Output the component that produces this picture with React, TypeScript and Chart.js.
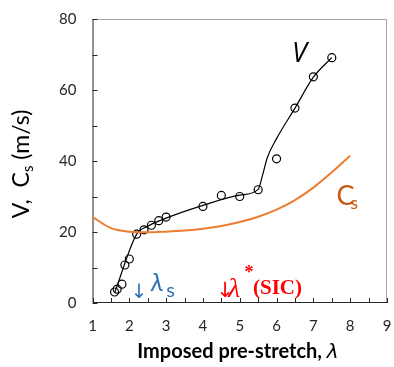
import React, { useEffect, useRef } from 'react';
import { Chart, registerables } from 'chart.js';
Chart.register(...registerables);

// Measured wave speed V (circles)
const vStretch = [1.6, 1.67, 1.8, 1.88, 2.0, 2.2, 2.4, 2.6, 2.8, 3.0, 4.0, 4.5, 5.0, 5.5, 6.0, 6.5, 7.0, 7.5];
const vSpeed = [3.1, 3.9, 5.3, 10.7, 12.4, 19.4, 20.6, 21.9, 23.2, 24.2, 27.2, 30.3, 30.0, 31.9, 40.6, 54.9, 63.7, 69.1];
// Guide curve through V
const fitStretch = [1.6, 2.2, 2.5, 3.0, 4.0, 5.0, 5.5, 5.62, 5.75, 6.0, 6.5, 7.0, 7.5];
const fitSpeed = [2.8, 19.4, 21.6, 23.9, 27.5, 30.4, 32.0, 36.0, 41.0, 46.3, 54.9, 63.6, 69.1];
// Shear wave speed Cs
const csStretch = [1, 1.5, 2, 2.5, 3, 3.5, 4, 4.5, 5, 5.5, 6, 6.5, 7, 7.5, 8];
const csSpeed = [24.2, 21.1, 20.1, 19.9, 20.1, 20.4, 20.9, 21.7, 22.8, 24.3, 26.3, 29.0, 32.5, 36.8, 41.5];

const xMin = 1, xMax = 9, xStep = 0.5;
const yMin = 0, yMax = 80, yStep = 10;

const FONT = 'Lato, "Open Sans", sans-serif';

const toPts = (xs: number[], ys: number[]) => xs.map((x, i) => ({ x, y: ys[i] }));

const noOverflow = (s: any) => {
  s.paddingLeft = 0;
  s.paddingRight = 0;
  s.paddingTop = 0;
  s.paddingBottom = 0;
};

const decor = {
  id: 'decor',
  beforeDatasetsDraw(chart: any) {
    const { ctx, chartArea: a, scales } = chart;
    ctx.save();
    ctx.lineWidth = 1;
    ctx.strokeStyle = '#a6a6a6';
    ctx.beginPath();
    ctx.moveTo(a.left, a.top + 0.5);
    ctx.lineTo(a.right - 0.5, a.top + 0.5);
    ctx.lineTo(a.right - 0.5, a.bottom);
    ctx.stroke();
    ctx.strokeStyle = '#262626';
    ctx.beginPath();
    ctx.moveTo(a.left + 0.5, a.top);
    ctx.lineTo(a.left + 0.5, a.bottom - 0.5);
    ctx.lineTo(a.right, a.bottom - 0.5);
    ctx.stroke();
    ctx.beginPath();
    scales.x.ticks.forEach((t: any) => {
      const p = Math.round(scales.x.getPixelForValue(t.value)) + 0.5;
      ctx.moveTo(p, a.bottom);
      ctx.lineTo(p, a.bottom - 5);
    });
    scales.y.ticks.forEach((t: any) => {
      const p = Math.round(scales.y.getPixelForValue(t.value)) + 0.5;
      ctx.moveTo(a.left, p);
      ctx.lineTo(a.left + 5, p);
    });
    ctx.stroke();
    ctx.restore();
  },
  afterDraw(chart: any) {
    const { ctx, scales } = chart;
    const px = (v: number) => scales.x.getPixelForValue(v);
    const py = (v: number) => scales.y.getPixelForValue(v);
    ctx.save();
    ctx.textAlign = 'left';
    ctx.textBaseline = 'alphabetic';
    const txt = (t: string, font: string, color: string, x: number, y: number) => {
      ctx.font = font;
      ctx.fillStyle = color;
      ctx.fillText(t, x, y);
    };
    // V label
    txt('V', `italic 27px "Open Sans", ${FONT}`, '#000', px(6.42), py(68.0));
    // Cs label
    txt('C', `27px ${FONT}`, '#C55A11', px(7.63), py(27.7));
    txt('s', `18px ${FONT}`, '#C55A11', px(8.0), py(26.6));
    // lambda_s marker
    const blue = '#2E75B6';
    txt('↓', `20px "DejaVu Sans"`, blue, px(2.04), py(1.5));
    txt('λ', `italic 26px ${FONT}`, blue, px(2.58), py(3.3));
    txt('s', `20px ${FONT}`, blue, px(3.0), py(1.8));
    // lambda* (SIC) marker
    const red = '#FF0000';
    txt('↓', `21px "DejaVu Sans"`, red, px(4.36), py(1.8));
    txt('λ', `italic 28px "Liberation Serif"`, red, px(4.68), py(1.8));
    txt('*', `bold 18px "Liberation Serif"`, red, px(5.13), py(7.0));
    txt('(SIC)', `bold 21px "Liberation Serif"`, red, px(5.36), py(2.5));
    // x title
    const xt1 = 'Imposed pre-stretch, ';
    ctx.font = `bold 20px ${FONT}`;
    const w1 = ctx.measureText(xt1).width;
    ctx.font = `italic 20px "DejaVu Sans"`;
    const w2 = ctx.measureText('λ').width;
    const cx = 238;
    txt(xt1, `bold 20px ${FONT}`, '#000', cx - (w1 + w2) / 2, 358);
    txt('λ', `italic 20px "DejaVu Sans"`, '#000', cx - (w1 + w2) / 2 + w1, 358);
    // y title (rotated)
    ctx.translate(29, 164);
    ctx.rotate(-Math.PI / 2);
    const parts: [string, string, number][] = [
      ['V,  C', `23px ${FONT}`, 0],
      ['s', `15px ${FONT}`, 4],
      [' (m/s)', `23px ${FONT}`, 0],
    ];
    let tw = 0;
    parts.forEach(([t, f]) => { ctx.font = f; tw += ctx.measureText(t).width; });
    let x0 = -tw / 2;
    parts.forEach(([t, f, dy]) => {
      ctx.font = f;
      ctx.fillStyle = '#000';
      ctx.fillText(t, x0, dy);
      x0 += ctx.measureText(t).width;
    });
    ctx.restore();
  },
};

export default function App() {
  const ref = useRef<HTMLCanvasElement>(null);
  useEffect(() => {
    document.body.style.margin = '0';
    const chart = new Chart(ref.current!, {
      type: 'scatter',
      data: {
        datasets: [
          {
            label: 'Cs',
            data: toPts(csStretch, csSpeed),
            showLine: true,
            borderColor: '#ED7D31',
            borderWidth: 2,
            pointRadius: 0,
            tension: 0.4,
            cubicInterpolationMode: 'monotone',
          },
          {
            label: 'V fit',
            data: toPts(fitStretch, fitSpeed),
            showLine: true,
            borderColor: '#000',
            borderWidth: 1.2,
            pointRadius: 0,
            cubicInterpolationMode: 'monotone',
          },
          {
            label: 'V',
            data: toPts(vStretch, vSpeed),
            showLine: false,
            pointRadius: 4,
            pointBorderWidth: 1.2,
            borderColor: '#000',
            backgroundColor: 'rgba(255,255,255,0)',
          },
        ],
      } as any,
      options: {
        animation: false,
        responsive: true,
        maintainAspectRatio: false,
        layout: { padding: { left: 0, top: 19, right: 7, bottom: 0 } },
        plugins: { legend: { display: false }, tooltip: { enabled: false } },
        scales: {
          x: {
            type: 'linear',
            min: xMin,
            max: xMax,
            grid: { display: false, drawTicks: false },
            border: { display: false },
            ticks: {
              stepSize: xStep,
              padding: 14,
              maxRotation: 0,
              autoSkip: false,
              color: '#262626',
              font: { family: FONT, size: 15 },
              callback: (v: any) => (Number.isInteger(v) ? String(v) : ''),
            },
            afterFit: (s: any) => { s.height = 64; noOverflow(s); },
          },
          y: {
            type: 'linear',
            min: yMin,
            max: yMax,
            grid: { display: false, drawTicks: false },
            border: { display: false },
            ticks: {
              stepSize: yStep,
              padding: 16,
              autoSkip: false,
              color: '#262626',
              font: { family: FONT, size: 15 },
              callback: (v: any) => (v % 20 === 0 ? String(v) : ''),
            },
            afterFit: (s: any) => { s.width = 92.5; noOverflow(s); },
          },
        },
      } as any,
      plugins: [decor],
    });
    return () => chart.destroy();
  }, []);
  return (
    <div style={{ width: 394, height: 367, position: 'relative' }}>
      <canvas ref={ref} />
    </div>
  );
}
